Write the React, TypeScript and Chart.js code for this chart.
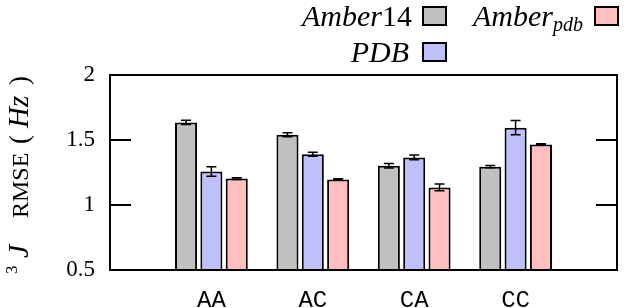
import React, { useEffect, useRef } from "react";
import { Chart, registerables } from "chart.js";

Chart.register(...registerables);

const categories = ["AA", "AC", "CA", "CC"];
const seriesNames = ["Amber14", "PDB", "Amber_pdb"];
const amber14 = [1.635, 1.54, 1.302, 1.295];
const amber14Err = [0.016, 0.015, 0.018, 0.008];
const pdb = [1.258, 1.39, 1.366, 1.595];
const pdbErr = [0.036, 0.015, 0.018, 0.055];
const amberPdb = [1.203, 1.196, 1.135, 1.465];
const amberPdbErr = [0.007, 0.006, 0.026, 0.006];
const yTicks = [0.5, 1, 1.5, 2];
const colors = ["#c0c0c0", "#bfbffa", "#ffbfbf"];

const pad = (arr: number[]) => [null, ...arr, null];

const SERIF = "'Liberation Serif', 'DejaVu Serif', serif";
const MONO = "'Liberation Mono', 'DejaVu Sans Mono', monospace";

type Run = { t: string; italic?: boolean; size: number; dy?: number; at?: number };

function runsWidth(ctx: CanvasRenderingContext2D, runs: Run[]) {
  let w = 0;
  for (const r of runs) {
    ctx.font = `${r.italic ? "italic " : ""}${r.size}px ${SERIF}`;
    w += ctx.measureText(r.t).width;
  }
  return w;
}

function drawRuns(ctx: CanvasRenderingContext2D, runs: Run[], x: number, y: number) {
  let cx = x;
  ctx.textBaseline = "alphabetic";
  ctx.textAlign = "left";
  for (const r of runs) {
    ctx.font = `${r.italic ? "italic " : ""}${r.size}px ${SERIF}`;
    if (r.at != null) cx = x + r.at;
    ctx.fillText(r.t, cx, y + (r.dy || 0));
    cx += ctx.measureText(r.t).width;
  }
}

const decorPlugin = {
  id: "decor",
  afterDatasetsDraw(chart: any) {
    const ctx: CanvasRenderingContext2D = chart.ctx;
    const yScale = chart.scales.y;
    ctx.save();
    ctx.strokeStyle = "#000";
    ctx.lineWidth = 1.5;
    chart.data.datasets.forEach((ds: any, di: number) => {
      const meta = chart.getDatasetMeta(di);
      meta.data.forEach((bar: any, i: number) => {
        const v = ds.data[i];
        const e = ds.errors[i];
        if (v == null || e == null) return;
        const x = bar.x;
        const y1 = yScale.getPixelForValue(v + e);
        const y2 = yScale.getPixelForValue(v - e);
        ctx.beginPath();
        ctx.moveTo(x, y1);
        ctx.lineTo(x, y2);
        ctx.moveTo(x - 5, y1);
        ctx.lineTo(x + 5, y1);
        ctx.moveTo(x - 5, y2);
        ctx.lineTo(x + 5, y2);
        ctx.stroke();
      });
    });
    ctx.restore();
  },
  afterDraw(chart: any) {
    const ctx: CanvasRenderingContext2D = chart.ctx;
    const a = chart.chartArea;
    const yScale = chart.scales.y;
    ctx.save();
    ctx.fillStyle = "#000";
    ctx.strokeStyle = "#000";
    ctx.lineWidth = 2;
    ctx.strokeRect(a.left, a.top, a.right - a.left, a.bottom - a.top);
    ctx.beginPath();
    yTicks.forEach((v) => {
      const y = yScale.getPixelForValue(v);
      ctx.moveTo(a.left, y);
      ctx.lineTo(a.left + 21, y);
      ctx.moveTo(a.right, y);
      ctx.lineTo(a.right - 21, y);
    });
    ctx.stroke();

    // rotated y-axis title, starting at the bottom (y = 277)
    const title: Run[] = [
      { t: "3", size: 17, dy: -11, at: 3 },
      { t: "J", italic: true, size: 30, at: 19 },
      { t: "RMSE", size: 24, at: 59 },
      { t: "(", size: 27, at: 133 },
      { t: "Hz", italic: true, size: 29, at: 149 },
      { t: ")", size: 27, at: 192 },
    ];
    ctx.save();
    ctx.translate(28, 277);
    ctx.rotate(-Math.PI / 2);
    drawRuns(ctx, title, 0, 0);
    ctx.restore();

    const legendItems = [
      { runs: [{ t: "Amber", italic: true, size: 30 }, { t: "14", size: 30 }] as Run[], right: 412, box: 423, yb: 26, color: colors[0] },
      { runs: [{ t: "PDB", italic: true, size: 30 }] as Run[], right: 409, box: 423, yb: 62, color: colors[1] },
      { runs: [{ t: "Amber", italic: true, size: 30 }, { t: "pdb", italic: true, size: 20, dy: 5 }] as Run[], right: 583, box: 595, yb: 26, color: colors[2] },
    ];
    legendItems.forEach((it) => {
      const w = runsWidth(ctx, it.runs);
      ctx.fillStyle = "#000";
      drawRuns(ctx, it.runs, it.right - w, it.yb);
      ctx.fillStyle = it.color;
      const by = it.yb - 19;
      ctx.fillRect(it.box, by, 23, 18);
      ctx.lineWidth = 2;
      ctx.strokeRect(it.box, by, 23, 18);
    });
    ctx.restore();
  },
};

export default function App() {
  const ref = useRef<HTMLCanvasElement | null>(null);
  useEffect(() => {
    let chart: Chart | null = null;
    let cancelled = false;
    const build = () => {
      if (cancelled || !ref.current) return;
      chart = new Chart(ref.current, {
        type: "bar",
        data: {
          labels: ["", ...categories, ""],
          datasets: [
            { label: seriesNames[0], data: pad(amber14), errors: pad(amber14Err), backgroundColor: colors[0] } as any,
            { label: seriesNames[1], data: pad(pdb), errors: pad(pdbErr), backgroundColor: colors[1] } as any,
            { label: seriesNames[2], data: pad(amberPdb), errors: pad(amberPdbErr), backgroundColor: colors[2] } as any,
          ],
        },
        options: {
          responsive: false,
          animation: false,
          events: [],
          layout: { padding: { top: 75, right: 1, left: 0, bottom: 0 } },
          datasets: {
            bar: {
              categoryPercentage: 0.75,
              barPercentage: 0.87,
              borderColor: "#000",
              borderWidth: 2,
              borderSkipped: false,
            },
          },
          plugins: {
            legend: { display: false },
            tooltip: { enabled: false },
          },
          scales: {
            x: {
              type: "category",
              offset: false,
              grid: { display: false, drawTicks: false },
              border: { display: false },
              ticks: {
                font: { family: MONO, size: 24 },
                color: "#000",
                padding: 16,
                maxRotation: 0,
                autoSkip: false,
              },
              afterFit: (s: any) => {
                s.height = 38;
              },
            },
            y: {
              min: 0.5,
              max: 2,
              grid: { display: false, drawTicks: false },
              border: { display: false },
              afterBuildTicks: (s: any) => {
                s.ticks = yTicks.map((v) => ({ value: v }));
              },
              ticks: {
                font: { family: SERIF, size: 23 },
                color: "#000",
                padding: 15,
                callback: (v: any) => String(v),
              },
              afterFit: (s: any) => {
                s.width = 110;
              },
            },
          },
        },
        plugins: [decorPlugin],
      });
    };
    const fonts = [
      "23px 'Liberation Serif'",
      "italic 23px 'Liberation Serif'",
      "24px 'Liberation Mono'",
    ];
    Promise.all(fonts.map((f) => document.fonts.load(f)))
      .catch(() => null)
      .then(() => build());
    return () => {
      cancelled = true;
      if (chart) chart.destroy();
    };
  }, []);
  return (
    <div style={{ position: "absolute", left: 0, top: 0, width: 633, height: 308, background: "#fff" }}>
      <canvas ref={ref} width={633} height={308} style={{ display: "block" }} />
    </div>
  );
}
